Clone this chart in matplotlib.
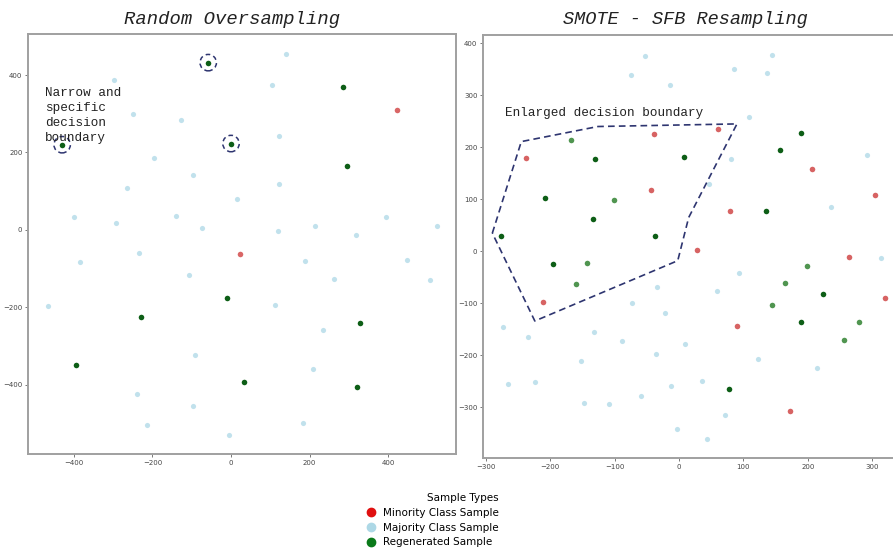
import matplotlib
matplotlib.use("Agg")
import matplotlib.pyplot as plt
from matplotlib.lines import Line2D

# ---- left panel: random oversampling ----
left_major_x = [139, -297, 104, -250, -127, 122, -197, -98, 121, -265, 15, -400, 396, -140,
                -292, 214, 525, -75, 119, 318, -234, -384, 189, 448, -107, 262, 508, -467,
                112, 235, -91, 210, -240, -96, -213, 184, -6]
left_major_y = [454, 388, 374, 300, 284, 242, 186, 143, 118, 107, 80, 32, 34, 37,
                18, 10, 9, 4, -3, -14, -59, -83, -81, -78, -117, -127, -129, -196,
                -193, -258, -322, -359, -425, -455, -504, -499, -530]
left_minor_x = [422, 24]
left_minor_y = [309, -63]
left_regen_x = [-58, 285, 0, -430, 295, -11, -229, 328, -394, 33, 322]
left_regen_y = [432, 369, 223, 220, 165, -176, -224, -240, -348, -393, -407]
circled_x = [-58, 0, -430]
circled_y = [432, 223, 220]

# ---- right panel: SMOTE - SFB ----
right_major_x = [-53, 144, -74, 86, 136, -14.5, 108, 81, 292.5, 236.5, 46, 314, 93, -34,
                 58.6, -73.6, -22, -274, -235, -132, -88.7, 9, -153, -36, 123, 215, -266,
                 -224.5, -12, 36, -59, -148, -109, 72, -3.6, 43]
right_major_y = [375, 377, 340, 351, 342, 320, 258, 178, 185, 86, 130, -12, -41, -68,
                 -76, -100, -119, -146, -164, -156, -173, -177.5, -210, -198, -207, -224, -255,
                 -251, -259, -249, -278, -291, -293, -315, -342, -360]
right_minor_x = [60, -39, -237.6, 206, -44, 304, 79, 28.5, 264.5, 319.5, -212, 90, 172]
right_minor_y = [236, 226, 179, 158, 118, 108, 77.5, 3, -11, -90, -97, -144, -307]
right_regen_x = [189, -131, 8, 157, -134, 135, -276, -38, -196.5, 223.5, 189, 77, -208.5]
right_regen_y = [227, 177, 182, 194, 61.5, 77, 30, 29, -24, -83, -136.5, -264, 102.5]
right_regen2_x = [-168.5, -100.6, -143, 198, 164, -160, 145, 280, 257]
right_regen2_y = [215, 98.7, -22, -27.5, -61, -63.5, -102.5, -135, -170]
boundary_x = [-290, -245, -126, 90, 15, -2, -224, -290]
boundary_y = [35, 211, 240, 245, 65, -18, -134, 35]

legend_labels = ["Minority Class Sample", "Majority Class Sample", "Regenerated Sample"]

W, H = 893, 548
fig = plt.figure(figsize=(W / 100, H / 100), dpi=100)


def px_axes(x0, y0, x1, y1):
    return fig.add_axes([x0 / W, 1 - y1 / H, (x1 - x0) / W, (y1 - y0) / H])


def style(ax):
    for s in ax.spines.values():
        s.set_color("#a0a0a0")
        s.set_linewidth(1.4)
    ax.tick_params(labelsize=5, colors="#444444", length=2.5, width=0.5, pad=1.5)


ax1 = px_axes(28, 34, 456, 454)
ax1.scatter(left_major_x, left_major_y, s=14, color="lightblue", alpha=0.75, lw=0)
ax1.scatter(left_minor_x, left_minor_y, s=16, color="#d04040", alpha=0.8, lw=0)
ax1.scatter(left_regen_x, left_regen_y, s=16, color="#0d5e16", lw=0)
ax1.scatter(circled_x, circled_y, s=140, facecolors="none", edgecolors="#2e3570",
            linewidths=1.1, linestyles=(0, (3, 2.2)))
ax1.set_xlim(-517, 573)
ax1.set_ylim(-579, 506)
ax1.set_xticks([-400, -200, 0, 200, 400])
ax1.set_yticks([-400, -200, 0, 200, 400])
style(ax1)

ax2 = px_axes(483, 35, 905, 458)
ax2.scatter(right_major_x, right_major_y, s=14, color="lightblue", alpha=0.75, lw=0)
ax2.scatter(right_minor_x, right_minor_y, s=16, color="#d04848", alpha=0.85, lw=0)
ax2.scatter(right_regen_x, right_regen_y, s=16, color="#0d5e16", lw=0)
ax2.scatter(right_regen2_x, right_regen2_y, s=16, color="#3d8a3d", alpha=0.9, lw=0)
ax2.plot(boundary_x, boundary_y, color="#2e3570", lw=1.2, dashes=(4, 2.5))
ax2.set_xlim(-304.5, 351)
ax2.set_ylim(-397.5, 416)
ax2.set_xticks([-300, -200, -100, 0, 100, 200, 300])
ax2.set_yticks([-300, -200, -100, 0, 100, 200, 300, 400])
style(ax2)

fig.text(232 / W, 1 - 20 / H, "Random Oversampling", family="Liberation Mono",
         style="italic", fontsize=13.6, ha="center", va="center", color="#222222")
fig.text(685 / W, 1 - 20 / H, "SMOTE - SFB Resampling", family="Liberation Mono",
         style="italic", fontsize=13.4, ha="center", va="center", color="#222222")
fig.text(45 / W, 1 - 87 / H, "Narrow and\nspecific\ndecision\nboundary",
         family="Liberation Mono", fontsize=9.1, ha="left", va="top", color="#222222",
         linespacing=1.35)
fig.text(505 / W, 1 - 116 / H, "Enlarged decision boundary",
         family="Liberation Mono", fontsize=9.1, ha="left", va="baseline", color="#222222")

handles = [Line2D([], [], marker="o", ls="", color=c, markersize=6)
           for c in ["#e01010", "lightblue", "#0a7a1a"]]
fig.legend(handles, legend_labels, title="Sample Types", loc="upper left",
           bbox_to_anchor=(357 / W, 1 - 486 / H), frameon=False, fontsize=7.5,
           title_fontsize=7.5, alignment="right", handletextpad=0.6,
           labelspacing=0.45, borderpad=0.2, handlelength=1.2)

fig.savefig("out.png", dpi=100)
